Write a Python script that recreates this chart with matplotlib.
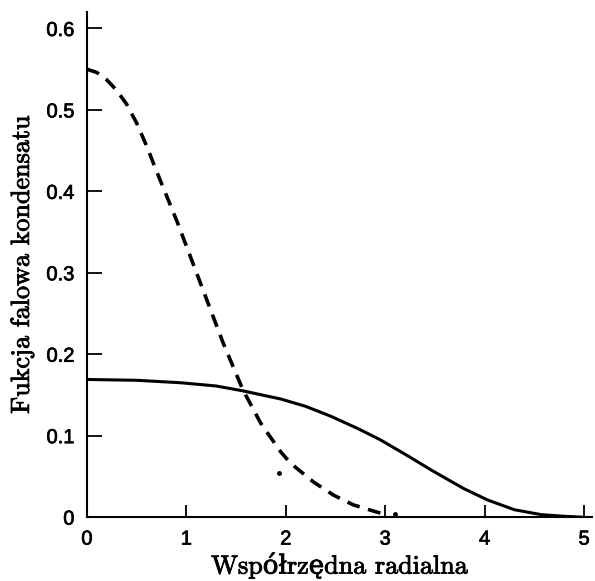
import numpy as np
import matplotlib
matplotlib.use("Agg")
from matplotlib import pyplot as plt
import matplotlib.patheffects as pe

# solid curve
r_solid = [0.0, 0.5, 0.94, 1.3, 1.57, 1.95, 2.2, 2.45, 2.72, 2.95, 3.23, 3.46, 3.56, 3.79, 4.03, 4.3, 4.57, 4.8, 4.97]
psi_solid = [0.169, 0.168, 0.165, 0.161, 0.155, 0.145, 0.136, 0.124, 0.109, 0.095, 0.075, 0.058, 0.051, 0.035, 0.021, 0.009, 0.003, 0.001, 0.0]

# dashed curve
r_dash = [0.0, 0.1, 0.2, 0.30, 0.40, 0.50, 0.60, 0.70, 0.81, 0.91, 1.14, 1.37, 1.57, 1.75, 1.95, 2.05, 2.28, 2.48, 2.68, 2.92, 2.98]
psi_dash = [0.550, 0.546, 0.537, 0.524, 0.507, 0.484, 0.456, 0.425, 0.392, 0.362, 0.288, 0.214, 0.156, 0.115, 0.08, 0.066, 0.043, 0.027, 0.015, 0.006, 0.004]

# stray dots
r_dots = [1.93, 3.1]
psi_dots = [0.054, 0.004]

fig = plt.figure(figsize=(5.95, 5.81), dpi=100)
ax = fig.add_axes([0.146, 0.110, 0.849, 0.869])

ax.plot(r_solid, psi_solid, color='black', lw=2.2)
ax.plot(r_dash, psi_dash, color='black', lw=2.6, dashes=(3.6, 2.4))
ax.plot(r_dots, psi_dots, 'o', color='black', ms=2.5)

ax.set_xlim(0, 5.08)
ax.set_ylim(0, 0.62)
ax.set_xticks([0, 1, 2, 3, 4, 5])
ax.set_xticklabels(['0', '1', '2', '3', '4', '5'])
ax.set_yticks([0, 0.1, 0.2, 0.3, 0.4, 0.5, 0.6])
ax.set_yticklabels(['0', '0.1', '0.2', '0.3', '0.4', '0.5', '0.6'])

for s in ['top', 'right']:
    ax.spines[s].set_visible(False)
for s in ['left', 'bottom']:
    ax.spines[s].set_linewidth(1.5)

ax.tick_params(axis='y', direction='in', length=11, width=1.3, pad=9,
               labelsize=14.5, labelfontfamily='Liberation Sans')
ax.tick_params(axis='x', direction='in', length=9, width=1.3, pad=9,
               labelsize=14.5, labelfontfamily='Liberation Sans')

thick = [pe.withStroke(linewidth=0.5, foreground='black')]
for t in ax.get_xticklabels() + ax.get_yticklabels():
    t.set_path_effects(thick)

lab_font = dict(family=['cmr10', 'DejaVu Serif'], size=18.8)
xl = ax.set_xlabel('Współrzędna radialna', fontdict=lab_font, labelpad=2.5)
yl = ax.set_ylabel('Fukcja falowa kondensatu', fontdict=lab_font, labelpad=9)
xl.set_path_effects([pe.withStroke(linewidth=0.6, foreground='black')])
yl.set_path_effects([pe.withStroke(linewidth=0.6, foreground='black')])

fig.savefig('out.png', dpi=100)
